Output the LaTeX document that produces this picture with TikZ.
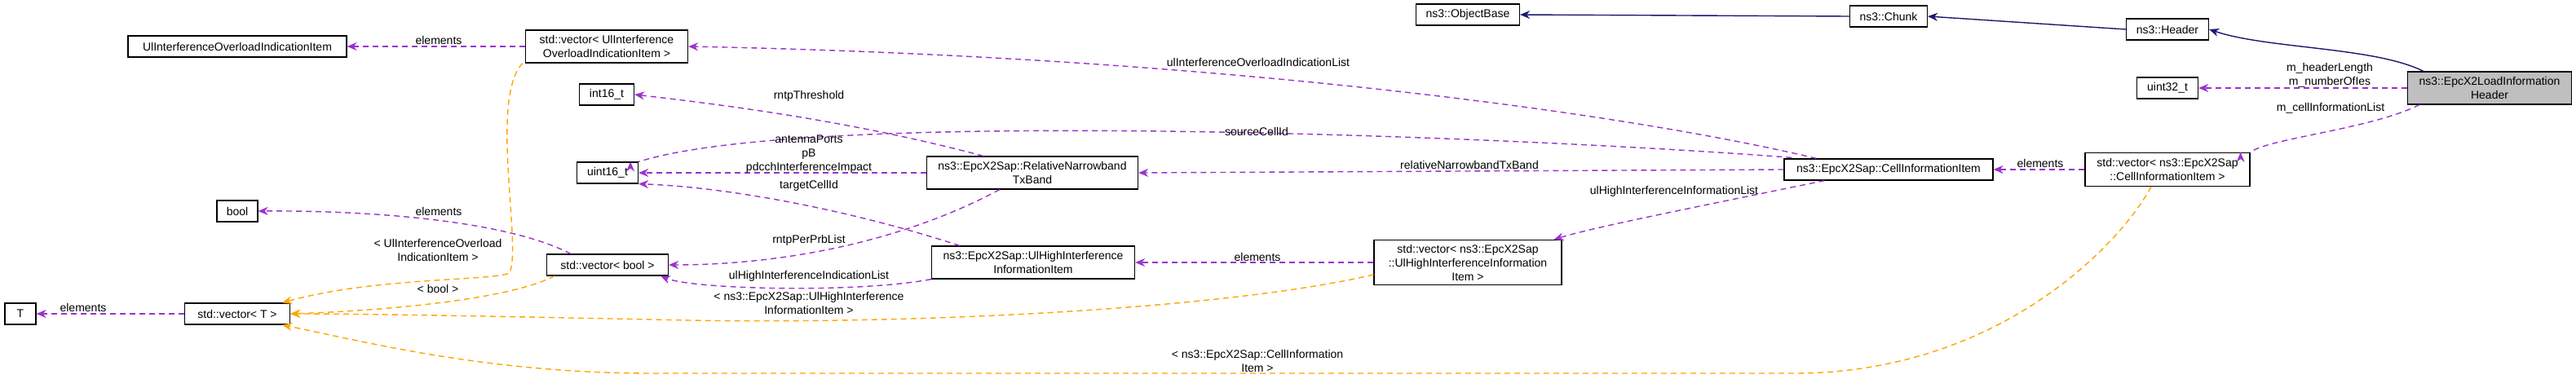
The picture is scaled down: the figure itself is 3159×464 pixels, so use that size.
\documentclass[tikz,border=0pt]{standalone}
\usepackage{fontspec}
\setmainfont{Liberation Sans}
\usetikzlibrary{arrows.meta}
\definecolor{mem}{HTML}{9A32CD}
\definecolor{tmpl}{HTML}{FFA500}
\definecolor{inh}{HTML}{191970}
\tikzset{
  cls/.style={draw, line width=1.2pt, fill=white, inner sep=0pt, align=center, font=\fontsize{14}{17}\selectfont},
  lbl/.style={align=center, font=\fontsize{14}{17}\selectfont, inner sep=1pt},
  usage/.style={draw=mem, dashed, dash pattern=on 7pt off 5pt, line width=1.4pt, -{Stealth[length=12pt,width=10pt]}},
  inst/.style={draw=tmpl, dashed, dash pattern=on 7pt off 5pt, line width=1.4pt, -{Stealth[length=12pt,width=10pt]}},
  base/.style={draw=inh, line width=1.4pt, -{Stealth[length=12pt,width=10pt]}},
}

\begin{document}
\begin{tikzpicture}[x=1pt,y=1pt,yscale=-1]
\useasboundingbox (0,0) rectangle (3159,464);

% classes
\node[cls, minimum width=201pt, minimum height=40pt, fill={rgb,255:red,191;green,191;blue,191}] (load) at (3053,108) {ns3::EpcX2LoadInformation\\Header};
\node[cls, minimum width=101pt, minimum height=26pt] (header) at (2658,36) {ns3::Header};
\node[cls, minimum width=95pt, minimum height=26pt] (chunk) at (2316,20) {ns3::Chunk};
\node[cls, minimum width=127pt, minimum height=26pt] (objbase) at (1800,18) {ns3::ObjectBase};
\node[cls, minimum width=75pt, minimum height=26pt] (u32) at (2658,108) {uint32\_t};
\node[cls, minimum width=202pt, minimum height=41pt] (veccell) at (2658,208) {std::vector\textless{} ns3::EpcX2Sap\\::CellInformationItem \textgreater{}};
\node[cls, minimum width=256pt, minimum height=26pt] (cellitem) at (2316,208) {ns3::EpcX2Sap::CellInformationItem};
\node[cls, minimum width=230pt, minimum height=55pt] (vechigh) at (1800,322) {std::vector\textless{} ns3::EpcX2Sap\\::UlHighInterferenceInformation\\Item \textgreater{}};
\node[cls, minimum width=259pt, minimum height=40pt] (rntb) at (1266,212) {ns3::EpcX2Sap::RelativeNarrowband\\TxBand};
\node[cls, minimum width=249pt, minimum height=40pt] (highitem) at (1267,322) {ns3::EpcX2Sap::UlHighInterference\\InformationItem};
\node[cls, minimum width=199pt, minimum height=40pt] (vecoverload) at (744,57) {std::vector\textless{} UlInterference\\OverloadIndicationItem \textgreater{}};
\node[cls, minimum width=268pt, minimum height=26pt] (overitem) at (291,57) {UlInterferenceOverloadIndicationItem};
\node[cls, minimum width=67pt, minimum height=26pt] (i16) at (744,116) {int16\_t};
\node[cls, minimum width=75pt, minimum height=26pt] (u16) at (745,212) {uint16\_t};
\node[cls, minimum width=50pt, minimum height=26pt] (bool) at (291,259) {bool};
\node[cls, minimum width=149pt, minimum height=26pt] (vecbool) at (745,325) {std::vector\textless{} bool \textgreater{}};
\node[cls, minimum width=129pt, minimum height=26pt] (vect) at (291,385) {std::vector\textless{} T \textgreater{}};
\node[cls, minimum width=38pt, minimum height=26pt] (t) at (25,385) {T};

% inheritance
\draw[base] (load.north west) ++(20,0) .. controls ++(-60,-30) and (2780,60) .. (header.east);
\draw[base] (header.west) -- (chunk.east);
\draw[base] (chunk.west) -- (objbase.east);

% members
\draw[usage] (load.west) -- (u32.east);
\draw[usage] (load.south west) ++(15,0) .. controls ++(-60,30) and (2780,170) .. (veccell.north east) ++(-12,0);
\draw[usage] (veccell.west) -- (cellitem.east);
\draw[usage] (cellitem.north west) ++(40,0) .. controls (2000,140) and (1500,70) .. (vecoverload.east);
\draw[usage] (cellitem.north west) ++(10,-1) .. controls (1900,170) and (1000,130) .. (u16.north east) ++(-10,0);
\draw[usage] (cellitem.west) -- (rntb.east);
\draw[usage] (cellitem.south west) ++(50,0) .. controls (2050,260) and (1950,280) .. ([xshift=-10pt]vechigh.north east);
\draw[usage] (vechigh.west) -- (highitem.east);
\draw[usage] (rntb.north west) ++(70,0) .. controls (1050,150) and (900,130) .. (i16.east);
\draw[usage] (rntb.west) -- (u16.east);
\draw[usage] (rntb.south west) ++(90,0) .. controls (1100,300) and (950,325) .. (vecbool.east);
\draw[usage] (highitem.north west) ++(35,0) .. controls (1050,260) and (900,230) .. (u16.south east);
\draw[usage] (highitem.south west) .. controls (1050,360) and (850,355) .. ([xshift=-10pt]vecbool.south east);
\draw[usage] (vecbool.north west) ++(30,0) .. controls (620,270) and (450,258) .. (bool.east);
\draw[usage] (vecoverload.west) -- (overitem.east);
\draw[usage] (vect.west) -- (t.east);

% template instances
\draw[inst] ([xshift=-20pt]veccell.south) .. controls (2600,300) and (2450,458) .. (2200,458) -- (800,458) .. controls (600,458) and (450,420) .. ([xshift=-10pt]vect.south east);
\draw[inst] (vechigh.west) ++(0,15) .. controls (1500,380) and (1100,400) .. (800,392) .. controls (600,388) and (450,385) .. (vect.east);
\draw[inst] ([xshift=10pt]vecbool.south west) .. controls (620,370) and (450,382) .. (vect.east);
\draw[inst] ([xshift=-3pt]vecoverload.south west) .. controls (600,120) and (640,300) .. (625,335) .. controls (600,345) and (460,340) .. ([xshift=-10pt]vect.north east);

% labels
\node[lbl] (l1) at (2857,92) {m\_headerLength\\m\_numberOfIes};
\node[lbl] (l2) at (2858,133) {m\_cellInformationList};
\node[lbl] (l3) at (2502,200) {elements};
\node[lbl] (l4) at (1543,76) {ulInterferenceOverloadIndicationList};
\node[lbl] (l5) at (1541,161) {sourceCellId};
\node[lbl] (l6) at (1802,202) {relativeNarrowbandTxBand};
\node[lbl] (l7) at (2053,235) {ulHighInterferenceInformationList};
\node[lbl] (l8) at (1542,315) {elements};
\node[lbl] (l9) at (1542,443) {\textless{} ns3::EpcX2Sap::CellInformation\\Item \textgreater{}};
\node[lbl] (l10) at (992,118) {rntpThreshold};
\node[lbl] (l11) at (992,189) {antennaPorts\\pB\\pdcchInterferenceImpact};
\node[lbl] (l12) at (992,228) {targetCellId};
\node[lbl] (l13) at (992,295) {rntpPerPrbList};
\node[lbl] (l14) at (992,339) {ulHighInterferenceIndicationList};
\node[lbl] (l15) at (992,372) {\textless{} ns3::EpcX2Sap::UlHighInterference\\InformationItem \textgreater{}};
\node[lbl] (l16) at (538,49) {elements};
\node[lbl] (l17) at (538,259) {elements};
\node[lbl] (l18) at (537,307) {\textless{} UlInterferenceOverload\\IndicationItem \textgreater{}};
\node[lbl] (l19) at (537,354) {\textless{} bool \textgreater{}};
\node[lbl] (l20) at (102,377) {elements};
\end{tikzpicture}
\end{document}
